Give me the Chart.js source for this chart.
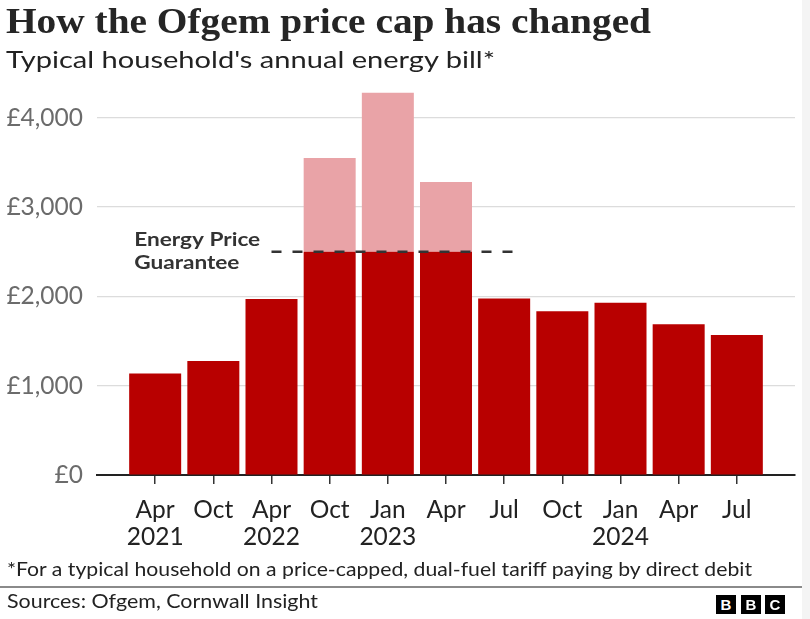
<!DOCTYPE html>
<html>
<head>
<meta charset="utf-8">
<script src="https://cdn.jsdelivr.net/npm/chart.js@4.4.1/dist/chart.umd.min.js"></script>
<style>
  html, body { margin: 0; padding: 0; background: #fff; }
  #wrap { position: relative; width: 810px; height: 619px; overflow: hidden; background: #fff; }
  #edge { position: absolute; left: 802px; top: 0; width: 8px; height: 619px; background: #f4f4f4; }
  canvas { position: absolute; left: 0; top: 0; }
  .t { position: absolute; white-space: nowrap; transform-origin: 0 0; line-height: 1; }
  #title { left: 6px; top: 3px; font-family: "Liberation Serif", serif; font-weight: bold; font-size: 36px; color: #252525; }
  #subtitle { left: 6px; top: 47px; font-family: Lato, sans-serif; font-size: 24px; color: #222; }
  #note { left: 7px; top: 558px; font-family: Lato, sans-serif; font-size: 20px; color: #222; }
  #source { left: 7px; top: 591px; font-family: Lato, sans-serif; font-size: 19px; color: #222; }
  #sep { position: absolute; left: 0; top: 586px; width: 802px; height: 2px; background: #8a8a8a; }
  .blk { position: absolute; top: 595px; width: 20px; height: 19px; background: #000; color: #fff;
         font-family: "Liberation Sans", sans-serif; font-weight: bold; font-size: 15px; line-height: 19px; text-align: center; }
</style>
</head>
<body>
<div id="wrap">
  <div id="edge"></div>
  <canvas id="c" width="810" height="619"></canvas>
  <div class="t" id="title" data-w="645">How the Ofgem price cap has changed</div>
  <div class="t" id="subtitle" data-w="489">Typical household's annual energy bill*</div>
  <div class="t" id="note" data-w="745">*For a typical household on a price-capped, dual-fuel tariff paying by direct debit</div>
  <div id="sep"></div>
  <div class="t" id="source" data-w="311">Sources: Ofgem, Cornwall Insight</div>
  <div class="blk" style="left:716px">B</div>
  <div class="blk" style="left:741px">B</div>
  <div class="blk" style="left:765px">C</div>
</div>
<script>
// ---- data ----
const months = ['Apr', 'Oct', 'Apr', 'Oct', 'Jan', 'Apr', 'Jul', 'Oct', 'Jan', 'Apr', 'Jul'];
const years = ['2021', '', '2022', '', '2023', '', '', '', '2024', '', ''];
const capValues = [1138, 1277, 1971, 3549, 4279, 3280, 1976, 1834, 1928, 1690, 1568];
const guaranteeValues = [null, null, null, 2500, 2500, 2500, null, null, null, null, null];
const yTicks = [0, 1000, 2000, 3000, 4000];
const guaranteeLabel = ['Energy Price', 'Guarantee'];

// fit header/footer text widths
document.querySelectorAll('.t[data-w]').forEach(el => {
  const w = el.getBoundingClientRect().width;
  const target = +el.dataset.w;
  el.style.transform = 'scaleX(' + (target / w) + ')';
});

// derived series
const paid = capValues.map((v, i) => guaranteeValues[i] != null ? guaranteeValues[i] : v);
const excess = capValues.map((v, i) => v - paid[i]);
const gIdx = guaranteeValues.map((v, i) => v != null ? i : -1).filter(i => i >= 0);
const gValue = guaranteeValues[gIdx[0]];
const gLine = [
  { x: gIdx[0] - 1, y: gValue },
  { x: gIdx[gIdx.length - 1] + 1.15, y: gValue }
];

const annot = {
  id: 'annot',
  afterDatasetsDraw(chart) {
    const { ctx, scales: { x, y } } = chart;
    const px = x.getPixelForValue(0) - 21;
    const py = y.getPixelForValue(gValue);
    ctx.save();
    ctx.font = 'bold 19px Lato, sans-serif';
    const k = 126 / ctx.measureText(guaranteeLabel[0]).width;
    ctx.translate(px, py);
    ctx.scale(k, 1);
    ctx.fillStyle = '#333';
    ctx.textAlign = 'left';
    ctx.textBaseline = 'middle';
    ctx.fillText(guaranteeLabel[0], 0, -12);
    ctx.fillText(guaranteeLabel[1], 0, 11);
    ctx.restore();
  }
};

Chart.defaults.font.family = 'Lato, sans-serif';

new Chart(document.getElementById('c'), {
  type: 'bar',
  data: {
    datasets: [
      {
        type: 'line',
        data: gLine,
        borderColor: '#333',
        borderWidth: 2.5,
        borderDash: [10, 11],
        pointRadius: 0,
        stack: 'line',
        order: 0
      },
      {
        data: paid.map((v, i) => ({ x: i, y: v })),
        backgroundColor: '#b80000',
        stack: 'bars',
        order: 1,
        barPercentage: 0.894,
        categoryPercentage: 1
      },
      {
        data: excess.map((v, i) => ({ x: i, y: v })),
        backgroundColor: '#e9a3a7',
        stack: 'bars',
        order: 1,
        barPercentage: 0.894,
        categoryPercentage: 1
      }
    ]
  },
  options: {
    responsive: false,
    animation: false,
    devicePixelRatio: 1,
    layout: { padding: { left: 5, right: 15, top: 82, bottom: 56 } },
    plugins: { legend: { display: false }, tooltip: { enabled: false } },
    scales: {
      x: {
        type: 'linear',
        offset: false,
        min: -1,
        max: 11,
        stacked: true,
        afterBuildTicks: s => { s.ticks = months.map((m, i) => ({ value: i })); },
        ticks: {
          autoSkip: false,
          maxRotation: 0,
          padding: 12,
          color: '#222',
          font: { size: 24.5, lineHeight: 1.12 },
          callback: v => [months[v], years[v]]
        },
        grid: { offset: false, drawOnChartArea: false, drawTicks: true, tickLength: 9, color: '#333', lineWidth: 1.5 },
        border: { display: true, color: '#222', width: 2 }
      },
      y: {
        min: 0,
        max: 4400,
        stacked: true,
        afterBuildTicks: s => { s.ticks = yTicks.map(v => ({ value: v })); },
        afterFit: s => { s.width = 92; },
        ticks: {
          padding: 14,
          color: '#6b6b6b',
          font: { size: 24.5 },
          callback: v => '£' + v.toLocaleString('en-GB')
        },
        grid: {
          drawTicks: false,
          color: ctx => ctx.tick && ctx.tick.value === 0 ? 'rgba(0,0,0,0)' : '#dcdcdc',
          lineWidth: 1.2
        },
        border: { display: false }
      }
    }
  },
  plugins: [annot]
});
</script>
</body>
</html>
